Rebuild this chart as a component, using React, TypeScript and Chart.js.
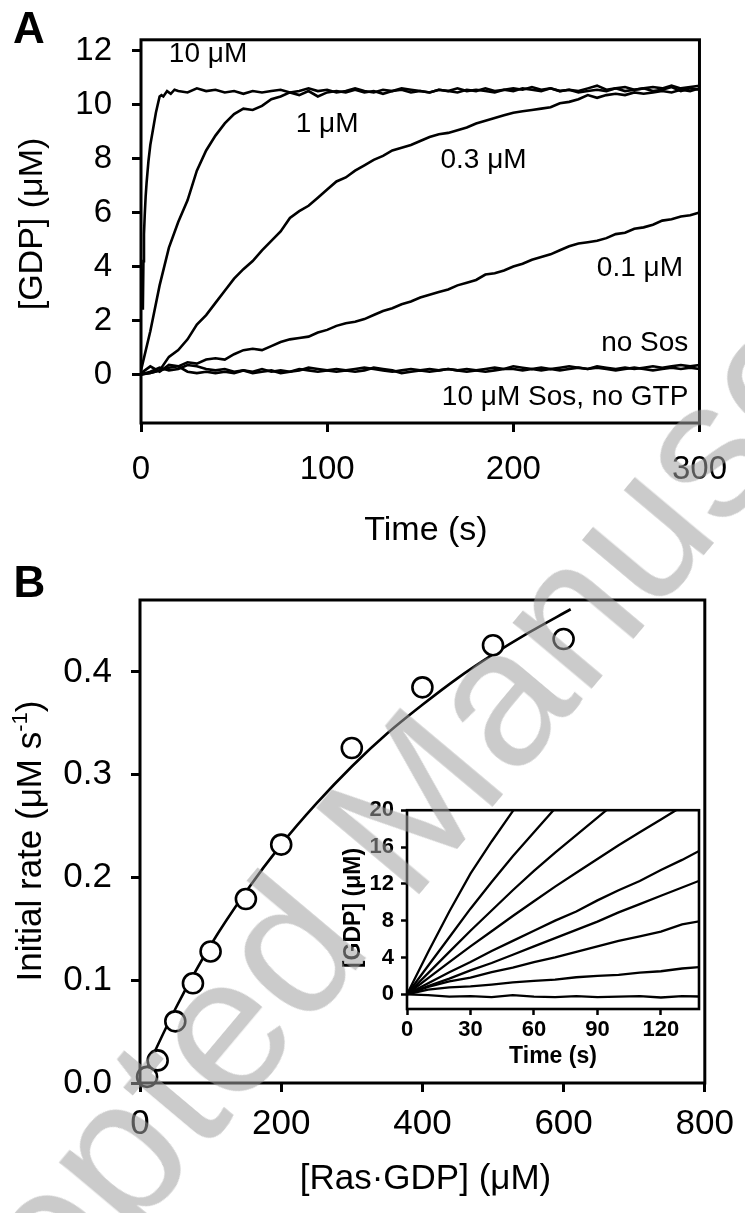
import React, { useEffect, useRef } from "react";
import { Chart, registerables } from "chart.js";

Chart.register(...registerables);

const FONT = '"Liberation Sans", Arial, Helvetica, sans-serif';

// ---------------- Panel A data ----------------
const TIME_A = [
  0, 5, 10, 15, 20, 25, 30, 35, 40, 45,
  50, 55, 60, 65, 70, 75, 80, 85, 90, 95,
  100, 105, 110, 115, 120, 125, 130, 135, 140, 145,
  150, 155, 160, 165, 170, 175, 180, 185, 190, 195,
  200, 205, 210, 215, 220, 225, 230, 235, 240, 245,
  250, 255, 260, 265, 270, 275, 280, 285, 290, 295,
  300,
];
const GDP_1uM = [
  0.15, 1.6, 3.3, 4.7, 5.65, 6.45, 7.55, 8.3, 8.85, 9.3,
  9.65, 9.85, 9.8, 9.95, 10.2, 10.3, 10.45, 10.35, 10.5, 10.3,
  10.45, 10.5, 10.45, 10.55, 10.45, 10.5, 10.4, 10.5, 10.55, 10.45,
  10.5, 10.45, 10.55, 10.5, 10.45, 10.55, 10.5, 10.6, 10.5, 10.55,
  10.5, 10.6, 10.55, 10.5, 10.6, 10.5, 10.55, 10.45, 10.5, 10.55,
  10.5, 10.6, 10.5, 10.55, 10.6, 10.5, 10.55, 10.65, 10.5, 10.6,
  10.55,
];
const GDP_03uM = [
  0, 0.05, 0.15, 0.65, 0.9, 1.3, 1.85, 2.2, 2.65, 3.1,
  3.55, 3.9, 4.2, 4.6, 4.95, 5.3, 5.8, 6.05, 6.25, 6.55,
  6.85, 7.15, 7.3, 7.55, 7.75, 7.95, 8.1, 8.3, 8.4, 8.5,
  8.65, 8.8, 8.9, 8.95, 9.05, 9.15, 9.3, 9.4, 9.5, 9.6,
  9.7, 9.75, 9.8, 9.85, 9.9, 10.05, 10.1, 10.2, 10.35, 10.25,
  10.35, 10.4, 10.35, 10.45, 10.4, 10.45, 10.5, 10.45, 10.55, 10.5,
  10.6,
];
const GDP_01uM = [
  0, 0.05, 0.15, 0.25, 0.3, 0.45, 0.4, 0.55, 0.6, 0.55,
  0.75, 0.9, 0.95, 0.9, 1.05, 1.2, 1.3, 1.35, 1.4, 1.55,
  1.65, 1.8, 1.9, 1.95, 2.05, 2.2, 2.35, 2.45, 2.6, 2.7,
  2.85, 2.95, 3.05, 3.15, 3.3, 3.4, 3.5, 3.7, 3.75, 3.85,
  4.0, 4.1, 4.25, 4.35, 4.45, 4.6, 4.75, 4.85, 4.9, 4.95,
  5.05, 5.2, 5.25, 5.4, 5.45, 5.55, 5.7, 5.75, 5.85, 5.9,
  6.0,
];
const GDP_NO_SOS = [
  0.05, 0.3, 0.1, 0.35, 0.3, 0.1, 0.05, 0.1, 0.05, 0.1,
  0.05, 0.15, 0.1, 0.2, 0.1, 0.15, 0.1, 0.2, 0.15, 0.1,
  0.15, 0.2, 0.15, 0.2, 0.25, 0.2, 0.15, 0.1, 0.15, 0.2,
  0.15, 0.2, 0.15, 0.2, 0.15, 0.1, 0.15, 0.2, 0.25, 0.2,
  0.3, 0.25, 0.2, 0.25, 0.2, 0.25, 0.3, 0.25, 0.2, 0.3,
  0.25, 0.2, 0.25, 0.2, 0.25, 0.3, 0.25, 0.3, 0.35, 0.3,
  0.35,
];
const GDP_NO_GTP = [
  0, 0.1, 0.25, 0.15, 0.2, 0.35, 0.3, 0.2, 0.15, 0.2,
  0.1, 0.15, 0.05, 0.1, 0.15, 0.05, 0.1, 0.15, 0.25, 0.2,
  0.15, 0.1, 0.15, 0.1, 0.15, 0.25, 0.2, 0.15, 0.05, 0.1,
  0.15, 0.1, 0.15, 0.2, 0.15, 0.2, 0.15, 0.1, 0.15, 0.2,
  0.2, 0.15, 0.2, 0.15, 0.2, 0.15, 0.2, 0.25, 0.2, 0.25,
  0.2, 0.15, 0.2, 0.25, 0.2, 0.15, 0.2, 0.25, 0.2, 0.25,
  0.2,
];
const TIME_10uM = [
  1, 1.3, 1.6, 2, 2.5, 3, 4, 5, 6, 7, 8, 9, 10, 11, 12, 14, 16, 18, 20,
  25, 30, 35, 40, 45, 50, 55, 60, 65, 70,
  75, 80, 85, 90, 95, 100, 105, 110, 115, 120,
  125, 130, 135, 140, 145, 150, 155, 160, 165, 170,
  175, 180, 185, 190, 195, 200, 205, 210, 215, 220,
  225, 230, 235, 240, 245, 250, 255, 260, 265, 270,
  275, 280, 285, 290, 295, 300,
];
const GDP_10uM = [
  2.4, 4.2, 5.2, 5.9, 6.6, 7.1, 7.9, 8.5, 8.9, 9.3, 9.7, 10.0, 10.3, 10.35, 10.3, 10.5, 10.4, 10.55, 10.5,
  10.45, 10.6, 10.5, 10.55, 10.45, 10.5, 10.4, 10.5, 10.45, 10.5,
  10.55, 10.45, 10.5, 10.6, 10.5, 10.55, 10.45, 10.5, 10.6, 10.5,
  10.45, 10.55, 10.5, 10.6, 10.55, 10.5, 10.45, 10.55, 10.5, 10.6,
  10.5, 10.55, 10.5, 10.45, 10.55, 10.6, 10.55, 10.65, 10.55, 10.6,
  10.5, 10.55, 10.5, 10.6, 10.7, 10.55, 10.6, 10.65, 10.55, 10.6,
  10.65, 10.6, 10.7, 10.6, 10.65, 10.7,
];
const A_X_TICKS = [0, 100, 200, 300];
const A_Y_TICKS = [0, 2, 4, 6, 8, 10, 12];
const A_CURVE_LABELS = ["10 μM", "1 μM", "0.3 μM", "0.1 μM", "no Sos", "10 μM Sos, no GTP"];
const A_LABEL_T = [36, 100, 184, 268, 294, 294];
const A_LABEL_Y = [11.85, 9.27, 7.95, 3.95, 1.15, -0.83];
const A_LABEL_ALIGN: CanvasTextAlign[] = ["center", "center", "center", "center", "right", "right"];

// ---------------- Panel B data ----------------
const RAS_GDP = [10, 25, 50, 75, 100, 150, 200, 300, 400, 500, 600];
const INITIAL_RATE = [0.006, 0.022, 0.06, 0.097, 0.128, 0.179, 0.232, 0.326, 0.385, 0.426, 0.432];
const FIT_X = [0, 50, 100, 150, 200, 250, 300, 350, 400, 450, 500, 550, 610];
const FIT_Y = [0, 0.072, 0.134, 0.186, 0.232, 0.272, 0.308, 0.34, 0.368, 0.394, 0.417, 0.438, 0.461];
const B_X_TICKS = [0, 200, 400, 600, 800];
const B_Y_TICKS = [0, 0.1, 0.2, 0.3, 0.4];

// ---------------- Inset data ----------------
const INSET_TIME = [0, 10, 20, 30, 40, 50, 60, 70, 80, 90, 100, 110, 120, 130, 140];
const INSET_1 = [0, 4.6, 9.0, 13.1, 16.6, 19.9, 23.1];
const INSET_2 = [0, 3.1, 6.2, 9.3, 12.2, 15.0, 17.6, 20.2, 22.7];
const INSET_3 = [0, 2.3, 4.6, 6.9, 9.1, 11.3, 13.4, 15.4, 17.3, 19.2, 21.1];
const INSET_4 = [0, 1.75, 3.5, 5.2, 6.85, 8.5, 10.1, 11.7, 13.2, 14.7, 16.2, 17.6, 19.0, 20.4, 21.8];
const INSET_5 = [0, 1.2, 2.4, 3.5, 4.7, 5.8, 6.9, 8.0, 9.0, 10.2, 11.3, 12.3, 13.5, 14.6, 15.8];
const INSET_6 = [0, 0.9, 1.7, 2.6, 3.4, 4.3, 5.2, 6.1, 7.0, 7.9, 8.9, 9.8, 10.7, 11.6, 12.5];
const INSET_7 = [0, 0.8, 1.4, 1.8, 2.4, 2.9, 3.5, 4.0, 4.6, 5.2, 5.8, 6.3, 6.8, 7.6, 8.0];
const INSET_8 = [0, 0.5, 0.75, 0.85, 1.05, 1.3, 1.45, 1.6, 1.85, 2.0, 2.1, 2.35, 2.5, 2.8, 3.0];
const INSET_9 = [0, -0.1, -0.25, -0.2, -0.3, -0.1, -0.25, -0.3, -0.2, -0.3, -0.25, -0.2, -0.35, -0.2, -0.25];
const INSET_SERIES = [INSET_1, INSET_2, INSET_3, INSET_4, INSET_5, INSET_6, INSET_7, INSET_8, INSET_9];
const INSET_X_TICKS = [0, 30, 60, 90, 120];
const INSET_Y_TICKS = [0, 4, 8, 12, 16, 20];

// ---------------- helpers ----------------
const zip = (xs: number[], ys: number[]) => ys.map((y, i) => ({ x: xs[i], y }));

const boxPlugin = {
  id: "box",
  afterDraw(chart: any, _a: any, opts: any) {
    const { ctx, chartArea } = chart;
    ctx.save();
    ctx.lineWidth = opts.width || 3;
    ctx.strokeStyle = "#000";
    ctx.strokeRect(chartArea.left, chartArea.top, chartArea.right - chartArea.left, chartArea.bottom - chartArea.top);
    ctx.restore();
  },
};

const textPlugin = {
  id: "texts",
  afterDraw(chart: any, _a: any, opts: any) {
    const ctx = chart.ctx;
    for (const it of opts.items || []) {
      ctx.save();
      let x = it.x;
      let y = it.y;
      if (it.data) {
        x = chart.scales.x.getPixelForValue(it.x);
        y = chart.scales.y.getPixelForValue(it.y);
      }
      ctx.translate(x, y);
      if (it.rotate) ctx.rotate(it.rotate);
      ctx.fillStyle = "#000";
      ctx.textBaseline = it.baseline || "alphabetic";
      if (it.parts) {
        const widths = it.parts.map((p: any) => {
          ctx.font = p.sup ? it.supFont : it.font;
          return ctx.measureText(p.text).width;
        });
        const total = widths.reduce((a: number, b: number) => a + b, 0);
        let cx = -total / 2;
        ctx.textAlign = "left";
        it.parts.forEach((p: any, i: number) => {
          ctx.font = p.sup ? it.supFont : it.font;
          ctx.fillText(p.text, cx, p.sup ? -it.supRaise : 0);
          cx += widths[i];
        });
      } else {
        ctx.font = it.font;
        ctx.textAlign = it.align || "center";
        ctx.fillText(it.text, 0, 0);
      }
      ctx.restore();
    }
  },
};

function axis(opts: {
  min: number;
  max: number;
  ticks: number[];
  size: number;
  isX: boolean;
  fontSize: number;
  bold?: boolean;
  padding: number;
  tickLength: number;
  tickWidth: number;
  fmt?: (v: number) => string;
}) {
  return {
    type: "linear",
    min: opts.min,
    max: opts.max,
    afterBuildTicks: (s: any) => {
      s.ticks = opts.ticks.map((v) => ({ value: v }));
    },
    afterFit: (s: any) => {
      if (opts.isX) s.height = opts.size;
      else s.width = opts.size;
    },
    border: { display: false },
    grid: {
      drawOnChartArea: false,
      drawTicks: true,
      tickLength: opts.tickLength,
      tickWidth: opts.tickWidth,
      tickColor: "#000",
    },
    ticks: {
      autoSkip: false,
      maxRotation: 0,
      minRotation: 0,
      padding: opts.padding,
      color: "#000",
      font: { family: FONT, size: opts.fontSize, weight: opts.bold ? "bold" : "normal" },
      callback: (v: number) => (opts.fmt ? opts.fmt(v) : String(v)),
    },
  };
}

const lineDs = (data: { x: number; y: number }[], width: number) => ({
  type: "line",
  data,
  borderColor: "#000",
  borderWidth: width,
  pointRadius: 0,
  tension: 0,
  fill: false,
});

function configA(): any {
  const labelItems = A_CURVE_LABELS.map((t, i) => ({
    text: t,
    x: A_LABEL_T[i],
    y: A_LABEL_Y[i],
    data: true,
    align: A_LABEL_ALIGN[i],
    baseline: "middle",
    font: `28px ${FONT}`,
  }));
  return {
    type: "line",
    data: {
      datasets: [
        lineDs(zip(TIME_10uM, GDP_10uM), 2.6),
        lineDs(zip(TIME_A, GDP_1uM), 2.6),
        lineDs(zip(TIME_A, GDP_03uM), 2.6),
        lineDs(zip(TIME_A, GDP_01uM), 2.6),
        lineDs(zip(TIME_A, GDP_NO_SOS), 2.6),
        lineDs(zip(TIME_A, GDP_NO_GTP), 2.6),
      ],
    },
    options: {
      responsive: false,
      animation: false,
      devicePixelRatio: 1,
      layout: { padding: { left: 0, top: 25, right: 34, bottom: 0 } },
      plugins: {
        legend: { display: false },
        tooltip: { enabled: false },
        box: { width: 3 },
        texts: {
          items: [
            { text: "A", x: 29, y: 43, font: `bold 44px ${FONT}` },
            { text: "[GDP] (μM)", x: 42, y: 224, rotate: -Math.PI / 2, font: `34px ${FONT}` },
            { text: "Time (s)", x: 426, y: 540, font: `34px ${FONT}` },
            ...labelItems,
          ],
        },
      },
      scales: {
        x: axis({ min: 0, max: 300, ticks: A_X_TICKS, size: 137, isX: true, fontSize: 33, padding: 18, tickLength: 9, tickWidth: 3 }),
        y: axis({ min: -1.8, max: 12.4, ticks: A_Y_TICKS, size: 141, isX: false, fontSize: 33, padding: 20, tickLength: 9, tickWidth: 3 }),
      },
    },
    plugins: [boxPlugin, textPlugin],
  };
}

function configB(): any {
  return {
    type: "scatter",
    data: {
      datasets: [
        {
          type: "scatter",
          data: zip(RAS_GDP, INITIAL_RATE),
          pointRadius: 10,
          pointBackgroundColor: "#fff",
          pointBorderColor: "#000",
          pointBorderWidth: 2.6,
          clip: false,
        },
        { ...lineDs(zip(FIT_X, FIT_Y), 2.6), cubicInterpolationMode: "monotone" },
      ],
    },
    options: {
      responsive: false,
      animation: false,
      devicePixelRatio: 1,
      layout: { padding: { left: 0, top: 40, right: 34, bottom: 0 } },
      plugins: {
        legend: { display: false },
        tooltip: { enabled: false },
        box: { width: 3 },
        texts: {
          items: [
            { text: "B", x: 29.5, y: 37, font: `bold 44px ${FONT}` },
            {
              parts: [{ text: "Initial rate (μM s" }, { text: "-1", sup: true }, { text: ")" }],
              x: 41,
              y: 281,
              rotate: -Math.PI / 2,
              font: `35px ${FONT}`,
              supFont: `22px ${FONT}`,
              supRaise: 14,
            },
            { text: "[Ras·GDP] (μM)", x: 425.5, y: 629, font: `35px ${FONT}` },
          ],
        },
      },
      scales: {
        x: axis({ min: 0, max: 800, ticks: B_X_TICKS, size: 130, isX: true, fontSize: 35, padding: 11, tickLength: 9, tickWidth: 3 }),
        y: axis({
          min: 0,
          max: 0.47,
          ticks: B_Y_TICKS,
          size: 140,
          isX: false,
          fontSize: 35,
          padding: 19,
          tickLength: 9,
          tickWidth: 3,
          fmt: (v) => v.toFixed(1),
        }),
      },
    },
    plugins: [boxPlugin, textPlugin],
  };
}

function configInset(): any {
  return {
    type: "line",
    data: {
      datasets: INSET_SERIES.map((s) => lineDs(zip(INSET_TIME, s), 2.3)),
    },
    options: {
      responsive: false,
      animation: false,
      devicePixelRatio: 1,
      layout: { padding: { left: 0, top: 18, right: 11, bottom: 0 } },
      plugins: {
        legend: { display: false },
        tooltip: { enabled: false },
        box: { width: 2.6 },
        texts: {
          items: [
            { text: "[GDP] (μM)", x: 30, y: 118, rotate: -Math.PI / 2, font: `bold 23px ${FONT}` },
            { text: "Time (s)", x: 223, y: 273, font: `bold 23px ${FONT}` },
          ],
        },
      },
      scales: {
        x: axis({ min: 0, max: 138, ticks: INSET_X_TICKS, size: 71, isX: true, fontSize: 22, bold: true, padding: 2, tickLength: 6, tickWidth: 2.5 }),
        y: axis({ min: -1.6, max: 20, ticks: INSET_Y_TICKS, size: 77, isX: false, fontSize: 22, bold: true, padding: 7, tickLength: 6, tickWidth: 2.5 }),
      },
    },
    plugins: [boxPlugin, textPlugin],
  };
}

export default function App() {
  const aRef = useRef<HTMLCanvasElement>(null);
  const bRef = useRef<HTMLCanvasElement>(null);
  const iRef = useRef<HTMLCanvasElement>(null);

  useEffect(() => {
    const charts = [
      new Chart(aRef.current as HTMLCanvasElement, configA()),
      new Chart(bRef.current as HTMLCanvasElement, configB()),
      new Chart(iRef.current as HTMLCanvasElement, configInset()),
    ];
    return () => charts.forEach((c) => c.destroy());
  }, []);

  return (
    <div style={{ position: "absolute", left: 0, top: 0, width: 745, height: 1213, overflow: "hidden", background: "#fff" }}>
      <canvas ref={aRef} width={745} height={560} style={{ position: "absolute", left: 0, top: 0, width: 745, height: 560 }} />
      <canvas ref={bRef} width={745} height={653} style={{ position: "absolute", left: 0, top: 560, width: 745, height: 653 }} />
      <canvas ref={iRef} width={380} height={290} style={{ position: "absolute", left: 330, top: 790, width: 380, height: 290 }} />
      <div
        style={{
          position: "absolute",
          left: 385,
          top: 830,
          transform: "translate(-50%, -50%) rotate(-50deg)",
          fontFamily: FONT,
          fontSize: 195,
          lineHeight: 1,
          whiteSpace: "nowrap",
          color: "rgba(160,160,160,0.55)",
          pointerEvents: "none",
        }}
      >
        Accepted Manuscript
      </div>
    </div>
  );
}
